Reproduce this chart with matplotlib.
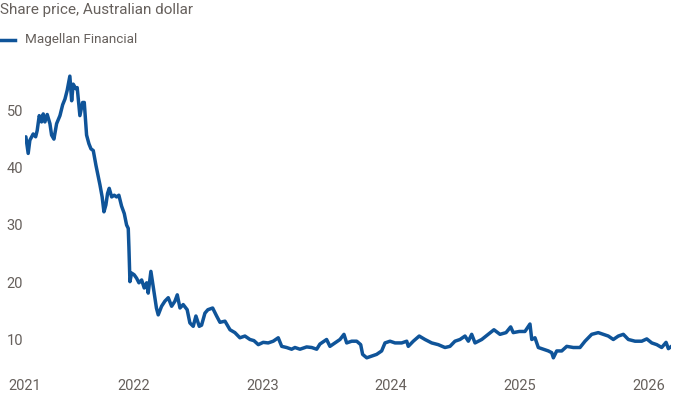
import matplotlib
matplotlib.use("Agg")
import matplotlib.pyplot as plt
from matplotlib.lines import Line2D

# share price, time as decimal years
years = [
    2021.152, 2021.160, 2021.178, 2021.191, 2021.217, 2021.236, 2021.248, 2021.264,
    2021.282, 2021.295, 2021.308, 2021.326, 2021.347, 2021.360, 2021.378, 2021.399,
    2021.425, 2021.446, 2021.464, 2021.481, 2021.502, 2021.516, 2021.528, 2021.549,
    2021.559, 2021.580, 2021.601, 2021.614, 2021.632, 2021.650, 2021.666, 2021.684,
    2021.705, 2021.718, 2021.736, 2021.753, 2021.767, 2021.782, 2021.795, 2021.808,
    2021.827, 2021.847, 2021.865, 2021.883, 2021.904, 2021.925, 2021.943, 2021.956,
    2021.961, 2021.969, 2021.982, 2022.002, 2022.021, 2022.039, 2022.060, 2022.080,
    2022.099, 2022.111, 2022.132, 2022.150, 2022.163, 2022.175, 2022.189, 2022.215,
    2022.241, 2022.267, 2022.293, 2022.319, 2022.337, 2022.358, 2022.383, 2022.414,
    2022.435, 2022.461, 2022.482, 2022.508, 2022.526, 2022.552, 2022.575, 2022.612,
    2022.643, 2022.669, 2022.708, 2022.747, 2022.785, 2022.824, 2022.863, 2022.902,
    2022.933, 2022.967, 2023.005, 2023.044, 2023.083, 2023.122, 2023.149, 2023.187,
    2023.226, 2023.252, 2023.291, 2023.343, 2023.382, 2023.421, 2023.446, 2023.498,
    2023.524, 2023.563, 2023.602, 2023.633, 2023.654, 2023.693, 2023.732, 2023.763,
    2023.778, 2023.810, 2023.848, 2023.887, 2023.926, 2023.952, 2023.991, 2024.030,
    2024.082, 2024.121, 2024.133, 2024.172, 2024.218, 2024.263, 2024.315, 2024.366,
    2024.418, 2024.457, 2024.496, 2024.535, 2024.574, 2024.600, 2024.626, 2024.652,
    2024.704, 2024.755, 2024.799, 2024.846, 2024.893, 2024.929, 2024.949, 2024.996,
    2025.040, 2025.079, 2025.093, 2025.118, 2025.144, 2025.183, 2025.222, 2025.248,
    2025.261, 2025.287, 2025.326, 2025.365, 2025.416, 2025.468, 2025.507, 2025.559,
    2025.610, 2025.649, 2025.688, 2025.727, 2025.766, 2025.805, 2025.844, 2025.896,
    2025.948, 2025.987, 2026.026, 2026.065, 2026.103, 2026.137, 2026.155, 2026.173,
]
price = [
    45.3, 45.4, 42.5, 44.8, 45.9, 45.4, 46.5, 49.1,
    48.0, 49.4, 48.0, 49.3, 47.7, 45.7, 45.0, 47.7,
    49.1, 51.0, 52.0, 53.5, 56.0, 51.7, 54.6, 53.8,
    54.0, 49.1, 51.4, 51.4, 45.7, 44.2, 43.3, 43.0,
    40.4, 39.0, 37.0, 34.9, 32.3, 33.5, 35.5, 36.4,
    34.9, 35.2, 34.9, 35.2, 33.3, 32.0, 30.0, 29.4,
    26.2, 20.1, 21.6, 21.3, 20.7, 19.9, 20.4, 19.0,
    19.9, 18.1, 21.9, 19.3, 17.3, 15.5, 14.3, 15.8,
    16.7, 17.3, 15.8, 16.7, 17.8, 15.5, 16.1, 15.2,
    12.9, 12.3, 14.1, 12.3, 12.5, 14.6, 15.2, 15.5,
    14.1, 13.0, 13.2, 11.7, 11.2, 10.3, 10.6, 10.0,
    9.8, 9.1, 9.5, 9.4, 9.7, 10.3, 8.8, 8.6,
    8.3, 8.6, 8.3, 8.7, 8.6, 8.3, 9.2, 10.0,
    8.8, 9.4, 10.0, 10.9, 9.4, 9.7, 9.7, 9.1,
    7.4, 6.8, 7.1, 7.4, 8.0, 9.4, 9.7, 9.4,
    9.4, 9.7, 8.8, 9.7, 10.6, 10.0, 9.4, 9.1,
    8.6, 8.8, 9.7, 10.0, 10.6, 9.7, 10.9, 9.4,
    10.0, 10.9, 11.7, 10.9, 11.2, 12.2, 11.2, 11.4,
    11.4, 12.7, 10.0, 10.3, 8.6, 8.3, 8.0, 7.7,
    6.8, 8.0, 8.0, 8.8, 8.6, 8.6, 9.7, 10.9,
    11.2, 10.9, 10.6, 10.0, 10.6, 10.9, 10.0, 9.7,
    9.7, 10.1, 9.4, 9.1, 8.6, 9.5, 8.4, 8.7,
]
series_name = "Magellan Financial"
title = "Share price, Australian dollar"
y_ticks = [10, 20, 30, 40, 50]
x_ticks = [2021.152, 2022, 2023, 2024, 2025, 2026]
x_labels = ["2021", "2022", "2023", "2024", "2025", "2026"]

blue = "#0f5499"
grey = "#66605c"
plt.rcParams["font.family"] = ["Roboto", "DejaVu Sans"]

fig = plt.figure(figsize=(6.9, 4.0), dpi=100)
ax = fig.add_axes([0.036, 0.0654, 0.936, 0.7586])

ax.plot(years, price, color=blue, lw=2.5, solid_joinstyle="round")
ax.set_xlim(2021.152, 2026.173)
ax.set_ylim(4, 57)

ax.set_yticks(y_ticks)
ax.set_xticks(x_ticks)
ax.set_xticklabels(x_labels)
for s in ax.spines.values():
    s.set_visible(False)
ax.tick_params(axis="both", length=0, colors=grey, labelsize=10.5)
ax.tick_params(axis="y", pad=13)
ax.tick_params(axis="x", pad=4)
for lab in ax.get_yticklabels():
    lab.set_horizontalalignment("left")

fig.text(0.0, 0.975, title, color=grey, fontsize=11, va="center", ha="left")
fig.add_artist(Line2D([0.0, 0.022], [0.9, 0.9], color=blue, lw=2.5,
                      transform=fig.transFigure))
fig.text(0.036, 0.9, series_name, color=grey, fontsize=9.7, va="center", ha="left")

fig.savefig("out.png", dpi=100)
